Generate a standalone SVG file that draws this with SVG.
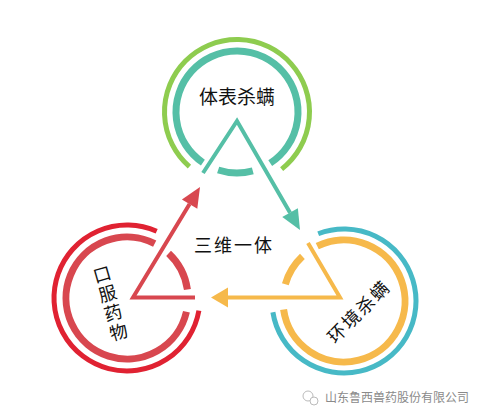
<svg xmlns="http://www.w3.org/2000/svg" width="482" height="419" viewBox="0 0 482 419">
<style>
.ring{fill:none}
.o{stroke-width:5}
.i{stroke-width:7}
.ln{fill:none;stroke-width:4;stroke-linejoin:miter}
.lbl{font-family:"Noto Sans CJK SC","Noto Sans",sans-serif;fill:#111;text-anchor:middle;dominant-baseline:central}
</style>
<rect width="482" height="419" fill="#ffffff"/>
<g id="node-body">
<path class="ring o" stroke="#8ECC4F" d="M189.43,166.72 A72.5,72.5 0 1 1 281.64,169.13"/>
<path class="ring i" stroke="#55BFA6" d="M202.89,162.57 A61,61 0 1 1 270.22,163.16"/>
<path class="ring i" stroke="#55BFA6" d="M252.79,170.92 A61,61 0 0 1 218.15,170.02"/>
<text class="lbl" x="237" y="95" font-size="19">体表杀螨</text>
</g>
<g id="node-oral">
<path class="ring o" stroke="#E02232" d="M198.89,310.68 A73,73 0 1 1 156.69,231.31"/>
<path class="ring i" stroke="#D8474F" d="M186.44,311.72 A61,61 0 1 1 154.69,243.65"/>
<path class="ring i" stroke="#D8474F" d="M168.6,253.39 A61,61 0 0 1 187.41,289.51"/>
<g transform="translate(110,302) rotate(-16)">
<text class="lbl" font-size="18" x="0" y="-30">口</text>
<text class="lbl" font-size="18" x="0" y="-10">服</text>
<text class="lbl" font-size="18" x="0" y="10">药</text>
<text class="lbl" font-size="18" x="0" y="30">物</text>
</g>
</g>
<g id="node-env">
<path class="ring o" stroke="#47B9C6" d="M318.2,233.78 A72,72 0 1 1 272.89,312.26"/>
<path class="ring i" stroke="#F6B94B" d="M317.26,246.17 A61,61 0 1 1 283.59,309.49"/>
<path class="ring i" stroke="#F6B94B" d="M285.36,284.19 A61,61 0 0 1 302.4,256.39"/>
<text class="lbl" font-size="18" transform="translate(358,310.5) rotate(-45)" letter-spacing="2">环境杀螨</text>
</g>
<g id="node-center">
<text class="lbl" x="234" y="244" font-size="18" letter-spacing="2">三维一体</text>
</g>
<g id="connectors">
<polyline class="ln" stroke="#55BFA6" points="203,173 237,121 290.06,212.64"/>
<polygon fill="#55BFA6" points="300,230 297.87,208.17 282.25,217.11"/>
<polyline class="ln" stroke="#D8474F" points="195,297.5 133,297.5 189.6,204.08"/>
<polygon fill="#D8474F" points="200,187 197.29,208.76 181.91,199.4"/>
<polyline class="ln" stroke="#F6B94B" points="308,243 340,297.5 228,297.5"/>
<polygon fill="#F6B94B" points="211,297.5 228,287.5 228,307.5"/>
</g>
<g id="watermark">
<circle cx="308" cy="396" r="5" fill="none" stroke="#bbb" stroke-width="1"/>
<circle cx="314" cy="401" r="4" fill="#fff" stroke="#bbb" stroke-width="1"/>
<text x="325" y="402" font-size="12" fill="#8a8a8a" font-family="Noto Sans CJK SC,sans-serif">山东鲁西兽药股份有限公司</text>
</g>
</svg>
